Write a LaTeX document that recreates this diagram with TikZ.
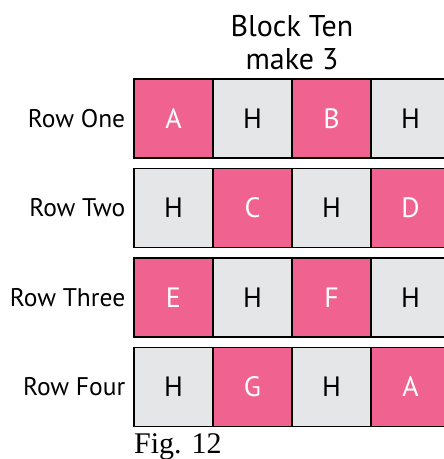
\documentclass[tikz,border=0pt]{standalone}
\usepackage{fontspec}
\setmainfont{PT Sans}
\newfontfamily\figfont{Liberation Serif}
\usetikzlibrary{positioning}
\definecolor{blockpink}{HTML}{F06391}
\definecolor{blockgrey}{HTML}{E5E6E8}
\tikzset{
	cellbox/.style={draw=black, line width=1.2pt, minimum size=79pt, inner sep=0pt,
		font=\fontsize{28}{28}\selectfont},
	pinkcell/.style={cellbox, fill=blockpink, text=white},
	greycell/.style={cellbox, fill=blockgrey, text=black},
	rowlabel/.style={anchor=east, inner sep=0pt, font=\fontsize{25.5}{25.5}\selectfont}
}
\begin{document}
\begin{tikzpicture}[x=1pt, y=-1pt]
	\useasboundingbox (0,0) rectangle (444,459);
	
	% Titel
	\node[align=center, inner sep=0pt, font=\fontsize{30}{33}\selectfont] (title) at (292,43) {Block Ten\\make 3};
	
	% Zeilen
	\foreach \r/\name/\a/\b/\c/\d/\sa/\sb/\sc/\sd in {
		1/One/A/H/B/H/pinkcell/greycell/pinkcell/greycell,
		2/Two/H/C/H/D/greycell/pinkcell/greycell/pinkcell,
		3/Three/E/H/F/H/pinkcell/greycell/pinkcell/greycell,
		4/Four/H/G/H/A/greycell/pinkcell/greycell/pinkcell} {
		\pgfmathsetmacro{\ypos}{118.5+89.5*(\r-1)}
		\node[\sa] (r\r c1) at (173.5,\ypos) {\a};
		\node[\sb] (r\r c2) at (252.5,\ypos) {\b};
		\node[\sc] (r\r c3) at (331.5,\ypos) {\c};
		\node[\sd] (r\r c4) at (410.5,\ypos) {\d};
		\node[rowlabel, left=8pt of r\r c1] (lab\r) {Row \name};
	}
	
	% Bildunterschrift
	\node[anchor=base west, inner sep=0pt, font=\figfont\fontsize{30}{30}\selectfont] (caption) at (134,453) {Fig. 12};
\end{tikzpicture}
\end{document}
